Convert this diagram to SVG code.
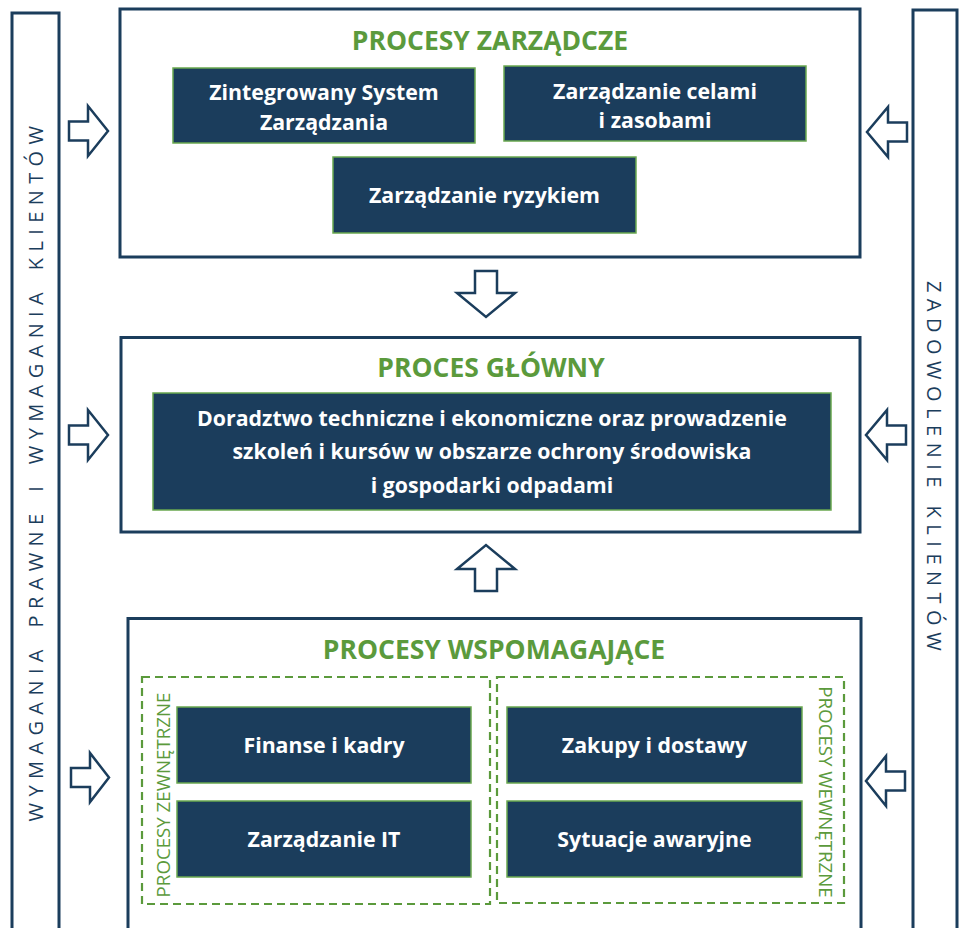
<svg xmlns="http://www.w3.org/2000/svg" width="959" height="928" viewBox="0 0 959 928">
<defs>
<style>
.frame{fill:#fff;stroke:#1b3d5c;stroke-width:3}
.node{fill:#1b3d5c;stroke:#6aa84f;stroke-width:1.5}
.dash{fill:none;stroke:#5b9a3c;stroke-width:2.2;stroke-dasharray:8 5}
.arr{fill:#fff;stroke:#1b3d5c;stroke-width:2.5;stroke-linejoin:miter}
.title{font-family:"Open Sans","Liberation Sans",sans-serif;font-weight:700;font-size:26.5px;fill:#5b9a3c;text-anchor:middle}
.lbl{font-family:"Open Sans","Liberation Sans",sans-serif;font-weight:700;font-size:21.3px;fill:#fff;text-anchor:middle}
.side{font-family:"Open Sans","Liberation Sans",sans-serif;font-weight:400;font-size:20px;fill:#1b3d5c;text-anchor:middle}
.sub{font-family:"Open Sans","Liberation Sans",sans-serif;font-weight:400;font-size:18.7px;fill:#5b9a3c;text-anchor:middle}
</style>
</defs>
<rect width="959" height="928" fill="#fff"/>

<g id="bar-left">
<rect class="frame" x="12" y="13" width="47" height="930"/>
<text class="side" letter-spacing="6.4" transform="translate(43,470.5) rotate(-90)">WYMAGANIA <tspan dx="4">PRAWNE</tspan> <tspan dx="4">I</tspan> <tspan dx="4">WYMAGANIA</tspan> <tspan dx="4">KLIENTÓW</tspan></text>
</g>
<g id="bar-right">
<rect class="frame" x="913" y="10" width="44" height="930"/>
<text class="side" letter-spacing="6.5" transform="translate(927,469) rotate(90)">ZADOWOLENIE KLIENTÓW</text>
</g>

<g id="procesy-zarzadcze">
<rect class="frame" x="120" y="9" width="740" height="248"/>
<text class="title" x="490" y="50">PROCESY ZARZĄDCZE</text>
</g>
<g id="zsz">
<rect class="node" x="173" y="68" width="302" height="75"/>
<text class="lbl" x="324" y="100">Zintegrowany System</text>
<text class="lbl" x="324" y="130">Zarządzania</text>
</g>
<g id="cele">
<rect class="node" x="504" y="66" width="302" height="75"/>
<text class="lbl" x="655" y="99">Zarządzanie celami</text>
<text class="lbl" x="655" y="128">i zasobami</text>
</g>
<g id="ryzyko">
<rect class="node" x="333" y="157" width="303" height="76"/>
<text class="lbl" x="484.5" y="203">Zarządzanie ryzykiem</text>
</g>

<g id="proces-glowny">
<rect class="frame" x="121" y="337.5" width="739" height="194.5"/>
<text class="title" x="491" y="377">PROCES GŁÓWNY</text>
</g>
<g id="doradztwo">
<rect class="node" x="153" y="393" width="678" height="117"/>
<text class="lbl" x="492" y="426">Doradztwo techniczne i ekonomiczne oraz prowadzenie</text>
<text class="lbl" x="492" y="459">szkoleń i kursów w obszarze ochrony środowiska</text>
<text class="lbl" x="492" y="493">i gospodarki odpadami</text>
</g>

<g id="procesy-wspomagajace">
<rect class="frame" x="128" y="618.5" width="733" height="330"/>
<text class="title" x="494" y="659">PROCESY WSPOMAGAJĄCE</text>
</g>
<g id="zewnetrzne">
<rect class="dash" x="142" y="677" width="348" height="227"/>
<text class="sub" transform="translate(170,795) rotate(-90)">PROCESY ZEWNĘTRZNE</text>
</g>
<g id="wewnetrzne">
<rect class="dash" x="497" y="677" width="347" height="226"/>
<text class="sub" transform="translate(819,792) rotate(90)">PROCESY WEWNĘTRZNE</text>
</g>
<g id="finanse">
<rect class="node" x="177" y="707" width="294" height="76"/>
<text class="lbl" x="324" y="753">Finanse i kadry</text>
</g>
<g id="it">
<rect class="node" x="177" y="801" width="294" height="76"/>
<text class="lbl" x="324" y="847">Zarządzanie IT</text>
</g>
<g id="zakupy">
<rect class="node" x="507" y="707" width="295" height="76"/>
<text class="lbl" x="654.5" y="753">Zakupy i dostawy</text>
</g>
<g id="awarie">
<rect class="node" x="507" y="801" width="295" height="76"/>
<text class="lbl" x="654.5" y="847">Sytuacje awaryjne</text>
</g>

<g id="connectors">
<polygon class="arr" points="69,121.5 88,121.5 88,106 108,131 88,156 88,140.5 69,140.5"/>
<polygon class="arr" points="69,425.5 88,425.5 88,410 108,435 88,460 88,444.5 69,444.5"/>
<polygon class="arr" points="71,768 90,768 90,753 109,777.5 90,802 90,787 71,787"/>
<polygon class="arr" points="907,122.5 888,122.5 888,107 867,132 888,157 888,141.5 907,141.5"/>
<polygon class="arr" points="906,425.5 887,425.5 887,410 866,435 887,460 887,444.5 906,444.5"/>
<polygon class="arr" points="905,771.5 886,771.5 886,756 866,781 886,806 886,790.5 905,790.5"/>
<polygon class="arr" points="475,271 497,271 497,293 515,293 486,317 457,293 475,293"/>
<polygon class="arr" points="475,591 497,591 497,569 515,569 486,545 457,569 475,569"/>
</g>
</svg>
